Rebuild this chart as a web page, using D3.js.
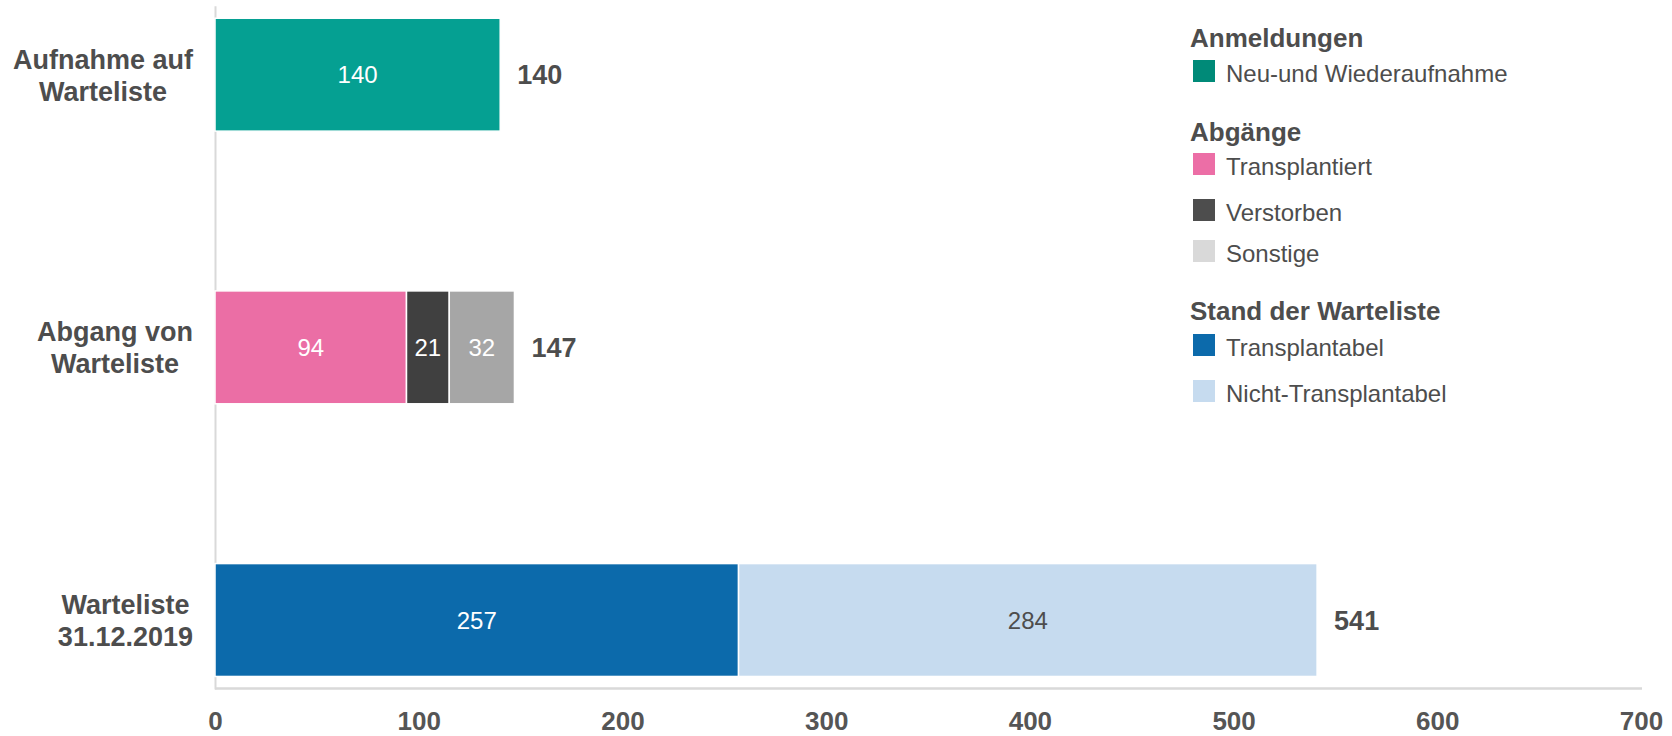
<!DOCTYPE html>
<html><head><meta charset="utf-8">
<script src="https://cdn.jsdelivr.net/npm/d3@7"></script>
<style>
html,body{margin:0;padding:0;background:#fff;}
svg{display:block;font-family:"Liberation Sans",Arial,sans-serif;}
</style></head>
<body><svg id="c" width="1672" height="736"></svg>
<script>
// ---- data ----
const categories = ["Aufnahme auf Warteliste", "Abgang von Warteliste", "Warteliste 31.12.2019"];
const categoryLines = [["Aufnahme auf", "Warteliste"], ["Abgang von", "Warteliste"], ["Warteliste", "31.12.2019"]];
const seriesNames = ["Neu-und Wiederaufnahme", "Transplantiert", "Verstorben", "Sonstige", "Transplantabel", "Nicht-Transplantabel"];
const seriesCategory = [0, 1, 1, 1, 2, 2];
const seriesValues = [140, 94, 21, 32, 257, 284];
const totals = [140, 147, 541];
const barColors = ["#05a092", "#eb6ea5", "#404040", "#a6a6a6", "#0c6aab", "#c6dbef"];
const legendColors = ["#008a78", "#ec6ea6", "#4d4d4d", "#d9d9d9", "#0c6aab", "#c6dbef"];
const labelColors = ["#fff", "#fff", "#fff", "#fff", "#fff", "#4d4d4d"];
const legendGroups = ["Anmeldungen", "Abgänge", "Stand der Warteliste"];
const legendGroupItems = [[0], [1, 2, 3], [4, 5]];
const xTicks = [0, 100, 200, 300, 400, 500, 600, 700];

// ---- layout ----
const svg = d3.select("#c");
const textCol = "#4d4d4d";
const x = d3.scaleLinear().domain([0, 700]).range([215, 1641]);
const y = d3.scaleBand().domain(categories).range([5.7, 689]).paddingInner(0.586).paddingOuter(0.046);

// axes
const xAxis = svg.append("g").attr("transform", "translate(0,688.5)")
  .call(d3.axisBottom(x).tickValues(xTicks).tickSize(0).tickSizeOuter(0).tickPadding(0));
xAxis.select(".domain").attr("stroke", "#d9d9d9").attr("stroke-width", 2.5).attr("d", "M215,0H1642");
xAxis.selectAll("text").attr("y", 41).attr("dy", null)
  .attr("font-size", 26).attr("font-weight", "bold").attr("fill", "#555")
  .attr("font-family", '"Liberation Sans",Arial,sans-serif');

const yAxis = svg.append("g").attr("transform", "translate(215,0)")
  .call(d3.axisLeft(y).tickSize(0).tickSizeOuter(0).tickFormat(""));
yAxis.select(".domain").attr("stroke", "#d9d9d9").attr("stroke-width", 2);

// stacked segments
const segs = seriesValues.map((v, i) => {
  const c = seriesCategory[i];
  let start = 0;
  for (let j = 0; j < i; j++) if (seriesCategory[j] === c) start += seriesValues[j];
  return {i, c, v, start};
});

svg.append("g").selectAll("rect").data(segs).join("rect")
  .attr("x", d => x(d.start))
  .attr("y", d => y(categories[d.c]))
  .attr("width", d => x(d.start + d.v) - x(d.start))
  .attr("height", y.bandwidth())
  .attr("fill", d => barColors[d.i])
  .attr("stroke", "#fff").attr("stroke-width", 1.5);

svg.append("g").selectAll("text").data(segs).join("text")
  .attr("x", d => x(d.start + d.v / 2))
  .attr("y", d => y(categories[d.c]) + y.bandwidth() / 2 + 8.5)
  .attr("text-anchor", "middle").attr("font-size", 24)
  .attr("fill", d => labelColors[d.i])
  .text(d => d.v);

// totals
svg.append("g").selectAll("text").data(totals).join("text")
  .attr("x", (d) => x(d) + 17)
  .attr("y", (d, i) => y(categories[i]) + y.bandwidth() / 2 + 9.5)
  .attr("font-size", 27).attr("font-weight", "bold").attr("fill", textCol)
  .text(d => d);

// category labels (two lines centred, block right-aligned)
categories.forEach((cat, i) => {
  const cy = y(cat) + y.bandwidth() / 2;
  const g = svg.append("g");
  const lines = categoryLines[i];
  const ts = lines.map((l, k) => g.append("text")
    .attr("font-size", 27).attr("font-weight", "bold").attr("fill", textCol)
    .attr("text-anchor", "middle")
    .attr("y", cy - 16 + 10 + k * 32)
    .text(l));
  const maxW = d3.max(ts, t => t.node().getComputedTextLength());
  ts.forEach(t => t.attr("x", 193 - maxW / 2));
});

// legend
const titleY = [37, 131, 310];
const swatchTop = [[60], [153, 199, 240], [334, 380]];
const lg = svg.append("g");
legendGroups.forEach((gname, gi) => {
  lg.append("text").attr("x", 1190).attr("y", titleY[gi] + 9.5)
    .attr("font-size", 26).attr("font-weight", "bold").attr("fill", textCol).text(gname);
  legendGroupItems[gi].forEach((si, k) => {
    const t = swatchTop[gi][k];
    lg.append("rect").attr("x", 1193).attr("y", t).attr("width", 22).attr("height", 22)
      .attr("fill", legendColors[si]);
    lg.append("text").attr("x", 1226).attr("y", t + 11 + 11)
      .attr("font-size", 24).attr("fill", textCol).text(seriesNames[si]);
  });
});
</script></body></html>
